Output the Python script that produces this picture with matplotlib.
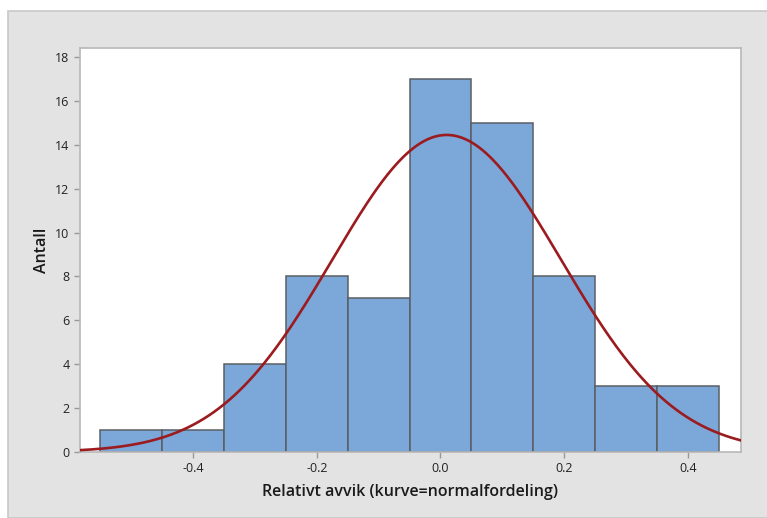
import matplotlib.pyplot as plt
import numpy as np
from matplotlib.patches import Rectangle

# histogram bins (centres) and counts
bin_centers = [-0.5, -0.4, -0.3, -0.2, -0.1, 0.0, 0.1, 0.2, 0.3, 0.4]
counts = [1, 1, 4, 8, 7, 17, 15, 8, 3, 3]
bin_width = 0.1

# fitted normal curve parameters
mu = 0.01
sigma = 0.185

x_ticks = [-0.4, -0.2, 0.0, 0.2, 0.4]
x_tick_labels = ["-0.4", "-0.2", "0.0", "0.2", "0.4"]
y_ticks = [0, 2, 4, 6, 8, 10, 12, 14, 16, 18]

plt.rcParams['font.family'] = ['Open Sans', 'DejaVu Sans']

fig = plt.figure(figsize=(7.67, 5.18), dpi=100)
fig.patch.set_facecolor('white')
fig.patches.append(Rectangle((8 / 767, 0), 1, 1 - 11 / 518, transform=fig.transFigure,
                             facecolor='#e3e3e3', edgecolor='#c8c8c8', linewidth=1.2, zorder=-10))

ax = fig.add_axes([80 / 767, 1 - 452 / 518, (741 - 80) / 767, (452 - 48) / 518])
ax.set_facecolor('white')

ax.bar(bin_centers, counts, width=bin_width, color='#7ba7d9', edgecolor='#5a5e63', linewidth=1.1, zorder=2)

xlo, xhi = -0.583, 0.486
xs = np.linspace(xlo, xhi, 400)
n = sum(counts)
ys = n * bin_width / (sigma * np.sqrt(2 * np.pi)) * np.exp(-0.5 * ((xs - mu) / sigma) ** 2)
ax.plot(xs, ys, color='#9b1b1f', linewidth=1.9, zorder=3)

ax.set_xlim(xlo, xhi)
ax.set_ylim(0, 18.41)
ax.set_xticks(x_ticks)
ax.set_xticklabels(x_tick_labels)
ax.set_yticks(y_ticks)

for s in ax.spines.values():
    s.set_color('#b8b8b8')
    s.set_linewidth(1.2)
ax.tick_params(axis='both', colors='#999999', labelcolor='#222222', labelsize=9, length=4, width=1)

ax.set_xlabel('Relativt avvik (kurve=normalfordeling)', fontsize=11.5, fontweight='semibold',
              color='#1a1a1a', labelpad=6)
ax.set_ylabel('Antall', fontsize=11.5, fontweight='semibold', color='#1a1a1a', labelpad=4)

fig.savefig('out.png', dpi=100)
